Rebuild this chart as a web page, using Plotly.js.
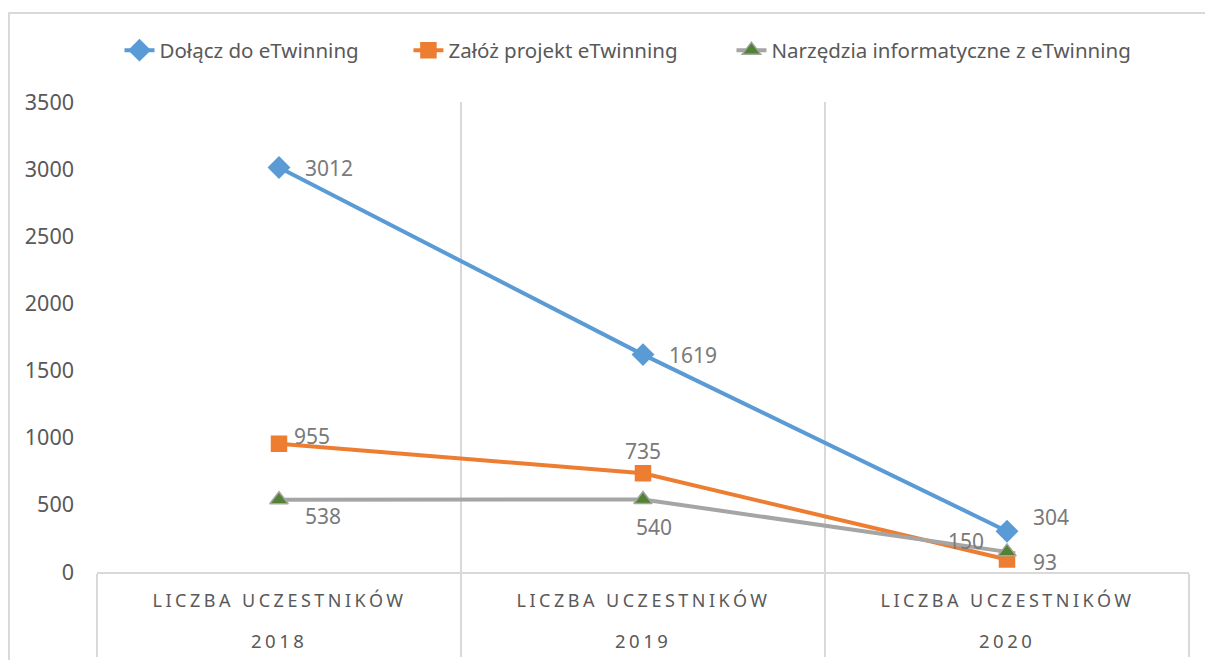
<!DOCTYPE html>
<html><head><meta charset="utf-8">
<script src="https://cdn.plot.ly/plotly-3.0.1.min.js"></script>
<style>
body{margin:0;background:#fff;overflow:hidden}
#chart{width:1205px;height:660px}
#frame{position:absolute;left:8px;top:12px;width:1300px;height:700px;border:2px solid #d9d9d9;box-sizing:border-box;pointer-events:none}
</style>
</head><body>
<div id="chart"></div><div id="frame"></div>
<script>
// ---- data ----
const years = ["2018", "2019", "2020"];
const categoryLabel = "LICZBA UCZESTNIKÓW";
const seriesNames = ["Dołącz do eTwinning", "Załóż projekt eTwinning", "Narzędzia informatyczne z eTwinning"];
const dolacz = [3012, 1619, 304];
const zaloz = [955, 735, 93];
const narzedzia = [538, 540, 150];
const yTicks = [0, 500, 1000, 1500, 2000, 2500, 3000, 3500];

// ---- styles ----
const font = "Noto Sans, Open Sans, sans-serif";
const labelColor = "#7a7a7a";
const seriesStyle = [
  {color: "#5B9BD5", symbol: "diamond", mcolor: "#5B9BD5", mline: "#5B9BD5", size: 16},
  {color: "#ED7D31", symbol: "square", mcolor: "#ED7D31", mline: "#ED7D31", size: 15},
  {color: "#A5A5A5", symbol: "triangle-up", mcolor: "#548235", mline: "#A5A5A5", size: 16}
];
const legendIds = ["legend", "legend2", "legend3"];
const legendX = [0.0206, 0.2852, 0.5810];
// label placement per series per point: [xanchor, xshift, yshift]
const labelPlace = [
  [["left", 24, 0], ["left", 24, 0], ["left", 24, 14]],
  [["left", 13, 8], ["center", 0, 22], ["left", 24, -2]],
  [["left", 24, -16], ["center", 11, -28], ["right", -21, 11]]
];

const allSeries = [dolacz, zaloz, narzedzia];
const traces = allSeries.map((vals, i) => ({
  type: "scatter", mode: "lines+markers", name: seriesNames[i],
  x: years, y: vals, legend: legendIds[i],
  line: {color: seriesStyle[i].color, width: 4},
  marker: {symbol: seriesStyle[i].symbol, size: seriesStyle[i].size, color: seriesStyle[i].mcolor,
           line: {color: seriesStyle[i].mline, width: 1.5}},
  hoverinfo: "x+y+name"
}));

// category axis annotations use the category serial index
const annotations = [];
years.forEach((y, j) => {
  annotations.push({xref: "x", yref: "paper", x: j, y: -0.0596, yanchor: "middle", xanchor: "center",
    text: categoryLabel, showarrow: false, font: {family: font, size: 18, color: "#595959"}});
  annotations.push({xref: "x", yref: "paper", x: j, y: -0.1468, yanchor: "middle", xanchor: "center",
    text: y, showarrow: false, font: {family: font, size: 18.5, color: "#595959"}});
});
const nCat = annotations.length;
allSeries.forEach((vals, i) => {
  vals.forEach((v, j) => {
    const p = labelPlace[i][j];
    annotations.push({xref: "x", yref: "y", x: j, y: v, text: String(v), showarrow: false,
      xanchor: p[0], yanchor: "middle", xshift: p[1], yshift: p[2],
      font: {family: font, size: 21, color: labelColor}});
  });
});

const layout = {
  width: 1205, height: 660,
  margin: {l: 97, r: 16, t: 102, b: 88},
  paper_bgcolor: "#fff", plot_bgcolor: "#fff",
  showlegend: true,
  xaxis: {type: "category", range: [-0.5, 2.5], tickson: "boundaries",
    showgrid: true, gridcolor: "#d9d9d9", gridwidth: 2,
    ticks: "outside", ticklen: 83, tickwidth: 2, tickcolor: "#d9d9d9",
    showticklabels: false, showline: true, linecolor: "#d9d9d9", linewidth: 2, zeroline: false, fixedrange: true},
  yaxis: {range: [0, 3500], tickvals: yTicks, showgrid: false, zeroline: false, showline: false,
    ticks: "", ticklabelstandoff: 22, tickfont: {family: font, size: 21.5, color: "#595959"}, fixedrange: true},
  annotations: annotations
};
legendIds.forEach((id, i) => {
  layout[id] = {orientation: "h", x: legendX[i], xanchor: "left", y: 1.11, yanchor: "middle",
    font: {family: font, size: 20.5, color: "#595959"}, itemclick: false, bgcolor: "rgba(0,0,0,0)"};
});

Plotly.newPlot("chart", traces, layout, {displayModeBar: false}).then(() => {
  document.querySelectorAll(".annotation").forEach(g => {
    const idx = +g.getAttribute("data-index");
    if (idx < nCat) {
      g.querySelectorAll("text").forEach(t => t.style.letterSpacing = "3.5px");
    }
  });
});
</script>
</body></html>
